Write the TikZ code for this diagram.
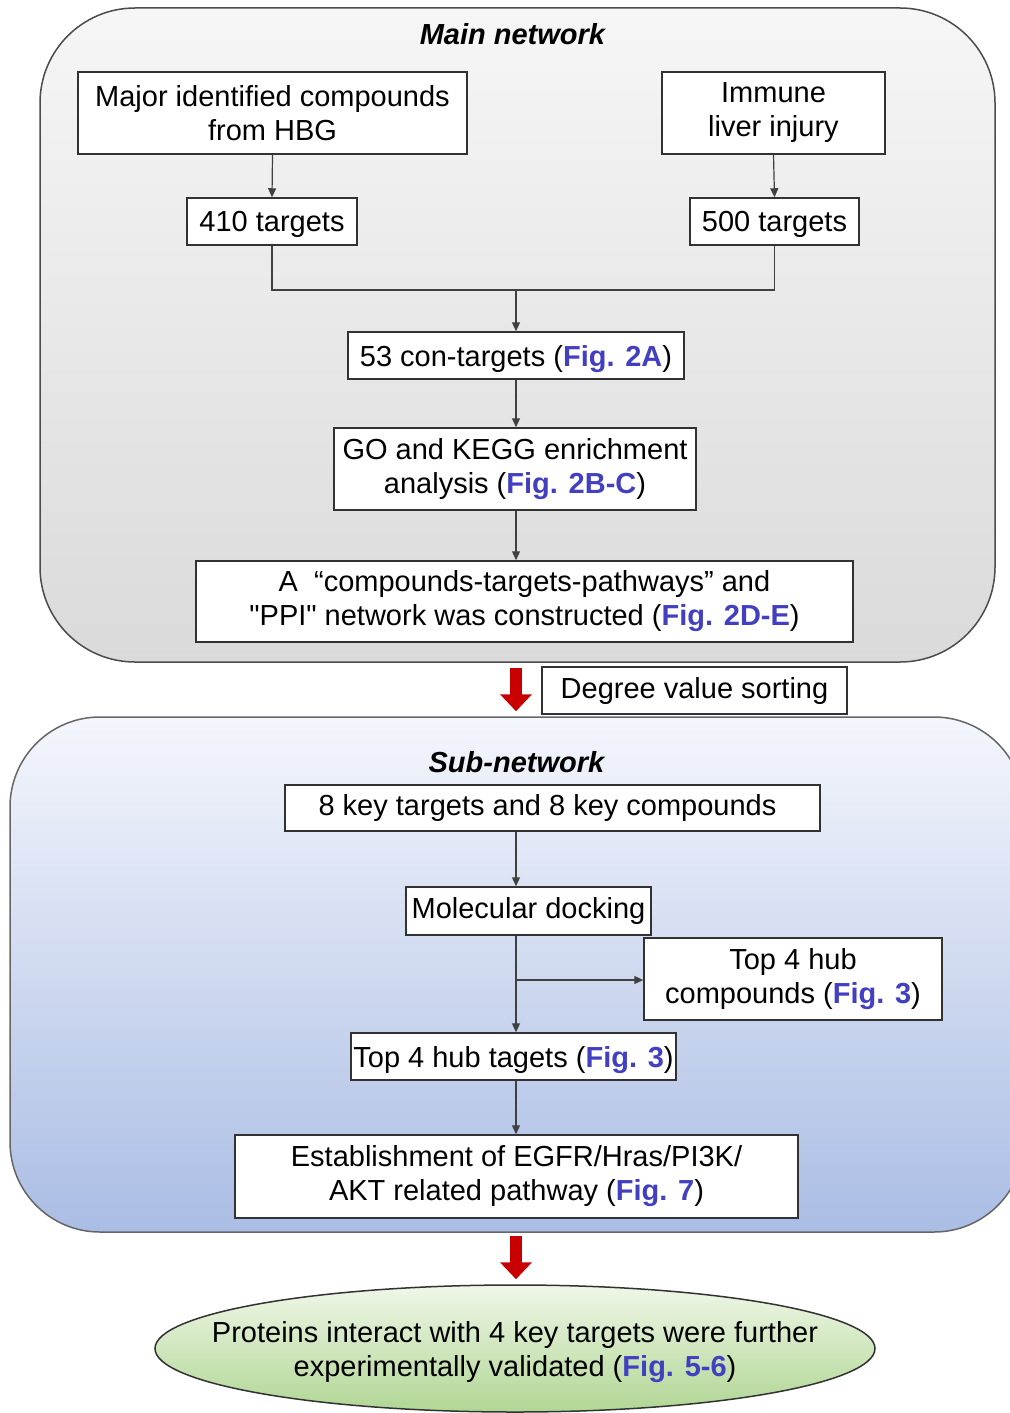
\documentclass[tikz,border=0pt]{standalone}
\usepackage{fontspec}
\setmainfont{Liberation Sans}
\newfontfamily\plainquote{Liberation Sans}
\usepackage{tikz}
\usetikzlibrary{positioning, arrows.meta, shapes.geometric}
\definecolor{figBlue}{RGB}{66,64,192}
\definecolor{boxLine}{RGB}{50,50,50}
\definecolor{redArrow}{RGB}{200,0,0}
\newcommand{\figref}[1]{\textcolor{figBlue}{\textbf{#1}}}
\newcommand{\sq}{{\plainquote"}}
\tikzset{
    flowbox/.style={draw=boxLine,fill=white,line width=1.5pt,align=center,inner sep=2pt},
    oneline/.style={text depth=0pt},
    conn/.style={draw=black!75,line width=1.2pt},
    arr/.style={conn,-{Triangle[length=9pt,width=8pt]}},
    bigarrow/.style={draw=redArrow,line width=12pt,-{Triangle[length=17pt,width=31pt]}},
}

\begin{document}
\begin{tikzpicture}[x=1pt,y=-1pt,
        every node/.style={font=\fontsize{29}{34}\selectfont},
    ]
    \useasboundingbox (0,0) rectangle (1009,1413);

    % the two network frames
    \node[draw=black!70,line width=1.5pt,rounded corners=95pt,
        top color={rgb,255:red,246;green,246;blue,246},
        bottom color={rgb,255:red,218;green,218;blue,218},
        minimum width=955pt,minimum height=654pt] (main) at (517.5,335) {};
    \node[draw=black!60,line width=1.5pt,rounded corners=90pt,
        top color={rgb,255:red,244;green,246;blue,252},
        bottom color={rgb,255:red,170;green,189;blue,228},
        minimum width=1014pt,minimum height=515pt] (sub) at (517,974.5) {};

    % titles
    \node (mainttl) at (513,34) {\textbf{\textit{Main network}}};
    \node (subttl) at (517,762) {\textbf{\textit{Sub-network}}};

    % main network boxes
    \node[flowbox,minimum width=389pt,minimum height=82pt] (comp) at (272.5,113)
        {Major identified compounds\\from HBG};
    \node[flowbox,minimum width=223pt,minimum height=82pt] (liver) at (773.5,113)
        {Immune\\liver injury};
    \node[flowbox,oneline,minimum width=170pt,minimum height=47pt] (t410) at (272,221.5) {410 targets};
    \node[flowbox,oneline,minimum width=169pt,minimum height=47pt] (t500) at (774.5,221.5) {500 targets};
    \node[flowbox,oneline,minimum width=336pt,minimum height=47pt] (con) at (516,355.5)
        {53 con-targets (\figref{Fig. 2A})};
    \node[flowbox,minimum width=362pt,minimum height=82pt] (enrich) at (515,469)
        {GO and KEGG enrichment\\analysis (\figref{Fig. 2B-C})};
    \node[flowbox,minimum width=657pt,minimum height=81pt] (ppi) at (524.5,601.5)
        {A\ \ “compounds-targets-pathways” and\\\sq PPI\sq\ network was constructed (\figref{Fig. 2D-E})};
    \node[flowbox,minimum width=305pt,minimum height=47pt] (degree) at (694.5,690.5)
        {Degree value sorting};

    % sub-network boxes
    \node[flowbox,minimum width=535pt,minimum height=46pt] (keytg) at (552.5,808)
        {8 key targets and 8 key compounds\hspace{10pt}};
    \node[flowbox,minimum width=245pt,minimum height=48pt] (dock) at (528.5,911)
        {Molecular docking};
    \node[flowbox,minimum width=298pt,minimum height=82pt] (hubc) at (793,979)
        {Top 4 hub\\compounds (\figref{Fig. 3})};
    \node[flowbox,oneline,minimum width=325pt,minimum height=47pt] (hubt) at (513.5,1056.5)
        {Top 4 hub tagets (\figref{Fig. 3})};
    \node[flowbox,minimum width=563pt,minimum height=83pt] (egfr) at (516.5,1176.5)
        {Establishment of EGFR/Hras/PI3K/\\AKT related pathway (\figref{Fig. 7})};

    % validation ellipse
    \node[ellipse,draw=boxLine,line width=1.5pt,align=center,
        top color={rgb,255:red,240;green,247;blue,232},
        bottom color={rgb,255:red,176;green,214;blue,148},
        minimum width=720pt,minimum height=127pt,inner xsep=-52pt,inner ysep=0pt,
        text depth=-7pt] (valid) at (515,1348.5)
        {Proteins interact with 4 key targets were further\\experimentally validated (\figref{Fig. 5-6})};

    % connectors
    \coordinate (join) at (516,290);
    \coordinate (branch) at (516,980);
    \draw[arr] (comp.south) -- (t410.north);
    \draw[arr] (liver.south) -- (t500.north);
    \draw[conn] (t410.south) |- (join) -| (t500.south);
    \draw[arr] (join) -- (con.north);
    \draw[arr] (con.south) -- (enrich.north -| con.south);
    \draw[arr] (enrich.south -| con.south) -- (ppi.north -| con.south);
    \draw[arr] (keytg.south -| join) -- (dock.north -| join);
    \draw[arr] (dock.south -| join) -- (hubt.north -| join);
    \draw[arr] (branch) -- (branch -| hubc.west);
    \draw[arr] (hubt.south -| join) -- (egfr.north -| join);

    % red arrows between stages
    \draw[bigarrow,shorten <=5pt,shorten >=5pt] (main.south -| join) -- (sub.north -| join);
    \draw[bigarrow,shorten <=3pt,shorten >=5pt] (sub.south -| join) -- (valid.north -| join);
\end{tikzpicture}
\end{document}
